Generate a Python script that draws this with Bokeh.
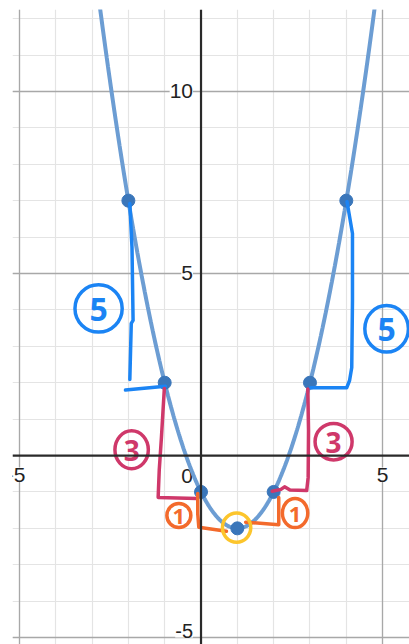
import numpy as np
from bokeh.plotting import figure
from bokeh.models import Grid, FixedTicker, Span
from bokeh.core.properties import value
from bokeh.embed import file_html
from bokeh.resources import INLINE

# Sample points on the parabola
pts_x = [-2, -1, 0, 1, 2, 3, 4]
pts_y = [7, 2, -1, -2, -1, 2, 7]

# Grid ticks
minor_x = list(range(-5, 6))
minor_y = list(range(-5, 13))
major_x = [-5, 5]
major_y = [-5, 5, 10]

# Axis tick labels
ylab_vals = [10, 5]
ylab_text = ["10", "5"]
ylab_low_val = -5
ylab_low_text = "-5"
xlab_vals = [-5, 5]
xlab_text = ["-5", "5"]

# Hand-drawn step annotations (data coordinates)
blue_paths_x = [[-1.96, -1.90, -1.87, -1.92, -1.96], [-2.08, -0.98],
                [4.02, 4.17, 4.17, 4.15, 4.09, 4.01, 3.02]]
blue_paths_y = [[6.92, 5.71, 3.71, 3.63, 2.09], [1.80, 1.90],
                [6.97, 6.10, 4.26, 2.42, 2.06, 1.86, 1.86]]
red_paths_x = [[-1.01, -1.09, -1.15, -1.18, -0.12],
               [2.94, 2.96, 2.95, 2.91, 2.45, 2.30, 2.20, 1.96]]
red_paths_y = [[1.84, 0.49, -0.40, -1.15, -1.18],
               [1.83, 0.69, -0.60, -0.96, -0.95, -0.86, -0.93, -0.98]]
orange_paths_x = [[-0.09, -0.09, -0.06, 0.70], [1.23, 2.14, 2.14]]
orange_paths_y = [[-1.04, -1.60, -1.97, -2.08], [-1.83, -1.90, -1.15]]

# Circled step sizes
blue_circ_x = [-2.82, 5.11]
blue_circ_y = [4.04, 3.48]
blue_circ_w = [1.30, 1.20]
blue_circ_h = [1.30, 1.28]
blue_circ_t = ["5", "5"]
red_circ_x = [-1.91, 3.65]
red_circ_y = [0.16, 0.38]
red_circ_w = [0.92, 1.02]
red_circ_h = [1.04, 1.00]
red_circ_t = ["3", "3"]
orange_circ_x = [-0.61, 2.59]
orange_circ_y = [-1.65, -1.58]
orange_circ_w = [0.66, 0.70]
orange_circ_h = [0.66, 0.80]
orange_circ_t = ["1", "1"]
vertex_circ_x = [0.98]
vertex_circ_y = [-1.98]

BLUE = "#1b84f4"
RED = "#cf386a"
ORANGE = "#f36a2c"
YELLOW = "#fcc52c"

p = figure(width=409, height=644, x_range=(-5.19, 5.74), y_range=(-5.19, 12.25),
           x_axis_location=None, y_axis_location=None,
           output_backend="svg", toolbar_location=None,
           min_border_left=12, min_border_top=9, min_border_right=0, min_border_bottom=0)
p.outline_line_color = None
p.background_fill_color = "white"
p.border_fill_color = "white"
for g in p.grid:
    g.visible = False

# Minor and major grid lines
p.add_layout(Grid(dimension=0, ticker=FixedTicker(ticks=minor_x),
                  grid_line_color="#e4e4e4", grid_line_width=1.2), "center")
p.add_layout(Grid(dimension=1, ticker=FixedTicker(ticks=minor_y),
                  grid_line_color="#e4e4e4", grid_line_width=1.2), "center")
p.add_layout(Grid(dimension=0, ticker=FixedTicker(ticks=major_x),
                  grid_line_color="#a8a8a8", grid_line_width=1.3), "center")
p.add_layout(Grid(dimension=1, ticker=FixedTicker(ticks=major_y),
                  grid_line_color="#a8a8a8", grid_line_width=1.3), "center")

# Coordinate axes
p.add_layout(Span(location=0, dimension="width", line_color="#2a2a2a", line_width=2.2))
p.add_layout(Span(location=0, dimension="height", line_color="#2a2a2a", line_width=2.2))

# Tick labels
lab_font = value("Liberation Sans")
p.text(x=[0] * len(ylab_vals), y=ylab_vals, text=ylab_text, text_align="right",
       text_baseline="middle", x_offset=-8, text_font=lab_font, text_font_size="21px",
       text_color="#222222", background_fill_color="white")
p.text(x=[0], y=[ylab_low_val], text=[ylab_low_text], text_align="right",
       text_baseline="middle", x_offset=-8, y_offset=-7, text_font=lab_font,
       text_font_size="20px", text_color="#222222", background_fill_color="white")
p.text(x=[xlab_vals[0]], y=[0], text=[xlab_text[0]], text_align="right",
       text_baseline="middle", x_offset=6, y_offset=19, text_font=lab_font,
       text_font_size="21px", text_color="#222222", background_fill_color="white")
p.text(x=[xlab_vals[1]], y=[0], text=[xlab_text[1]], text_align="center",
       text_baseline="middle", y_offset=19, text_font=lab_font,
       text_font_size="21px", text_color="#222222", background_fill_color="white")
p.text(x=[0], y=[0], text=["0"], text_align="right", text_baseline="middle",
       x_offset=-8, y_offset=20, text_font=lab_font, text_font_size="21px",
       text_color="#222222", background_fill_color="white")

# Parabola through the sample points
coef = np.polyfit(pts_x, pts_y, 2)
cx = np.linspace(-3.2, 5.2, 500)
cy = np.polyval(coef, cx)
p.line(cx, cy, line_color="#6c9dd3", line_width=4)
p.scatter(pts_x, pts_y, size=13, fill_color="#3a76ba", line_color="#3a76ba")

# Step annotations
p.multi_line(blue_paths_x, blue_paths_y, line_color=BLUE, line_width=3.5,
             line_join="round", line_cap="round")
p.multi_line(red_paths_x, red_paths_y, line_color=RED, line_width=3.5,
             line_join="round", line_cap="round")
p.multi_line(orange_paths_x, orange_paths_y, line_color=ORANGE, line_width=3.5,
             line_join="round", line_cap="round")

hand = value("Noto Sans")
p.ellipse(blue_circ_x, blue_circ_y, width=blue_circ_w, height=blue_circ_h,
          fill_color=None, line_color=BLUE, line_width=3.5)
p.text(blue_circ_x, blue_circ_y, text=blue_circ_t, text_align="center",
       text_baseline="middle", y_offset=1, text_font=hand, text_font_size="32px",
       text_font_style="bold", text_color=BLUE)
p.ellipse(red_circ_x, red_circ_y, width=red_circ_w, height=red_circ_h,
          fill_color=None, line_color=RED, line_width=3.5)
p.text(red_circ_x, red_circ_y, text=red_circ_t, text_align="center",
       text_baseline="middle", y_offset=1, text_font=hand, text_font_size="28px",
       text_font_style="bold", text_color=RED)
p.ellipse(orange_circ_x, orange_circ_y, width=orange_circ_w, height=orange_circ_h,
          fill_color=None, line_color=ORANGE, line_width=3.5)
p.text(orange_circ_x, orange_circ_y, text=orange_circ_t, text_align="center",
       text_baseline="middle", y_offset=1, text_font=hand, text_font_size="22px",
       text_font_style="bold", text_color=ORANGE)
p.ellipse(vertex_circ_x, vertex_circ_y, width=[0.78], height=[0.80],
          fill_color=None, line_color=YELLOW, line_width=3.5)

open("out.html", "w").write(file_html(p, INLINE))
